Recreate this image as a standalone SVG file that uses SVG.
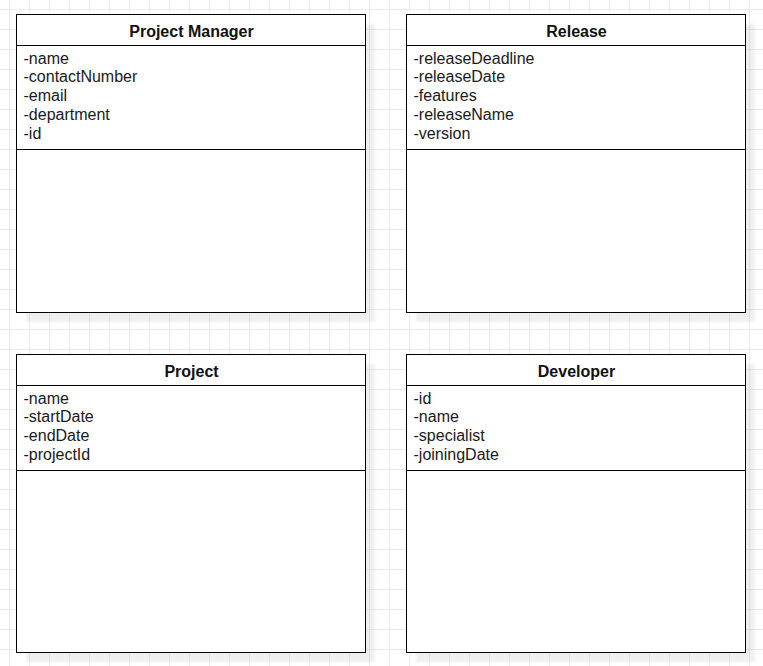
<svg xmlns="http://www.w3.org/2000/svg" width="763" height="666" viewBox="0 0 763 666">
<defs>
<pattern id="grid" x="9" y="9" width="20" height="20" patternUnits="userSpaceOnUse">
<path d="M0 0.5 H20 M0.5 0 V20" fill="none" stroke="#ececec" stroke-width="1"/>
</pattern>
<filter id="sh" x="-10%" y="-10%" width="130%" height="130%">
<feGaussianBlur stdDeviation="1.5"/>
</filter>
</defs>
<style>
.box{fill:#fff;stroke:#000;stroke-width:1}
.sep{stroke:#000;stroke-width:1;fill:none}
.shadow{fill:#000;opacity:0.06;filter:url(#sh)}
.title{font-family:"Liberation Sans",Arial,sans-serif;font-size:16px;font-weight:bold;fill:#111;text-anchor:middle}
.attr{font-family:"Liberation Sans",Arial,sans-serif;font-size:16px;fill:#1a1a1a}
</style>
<rect width="763" height="666" fill="#fff"/>
<rect x="0" y="0" width="763" height="666" fill="url(#grid)"/>

<g id="project-manager">
<rect class="shadow" x="26" y="24" width="349" height="298"/>
<rect class="box" x="16.5" y="14.5" width="349" height="298"/>
<line class="sep" x1="16.5" y1="45.5" x2="365.5" y2="45.5"/>
<line class="sep" x1="16.5" y1="149.5" x2="365.5" y2="149.5"/>
<text class="title" x="191.5" y="36.5">Project Manager</text>
<text class="attr" x="23.5" y="63.5">-name</text>
<text class="attr" x="23.5" y="82.3">-contactNumber</text>
<text class="attr" x="23.5" y="101.1">-email</text>
<text class="attr" x="23.5" y="119.9">-department</text>
<text class="attr" x="23.5" y="138.7">-id</text>
</g>

<g id="release">
<rect class="shadow" x="416" y="24" width="339" height="298"/>
<rect class="box" x="406.5" y="14.5" width="339" height="298"/>
<line class="sep" x1="406.5" y1="45.5" x2="745.5" y2="45.5"/>
<line class="sep" x1="406.5" y1="149.5" x2="745.5" y2="149.5"/>
<text class="title" x="576.5" y="36.5">Release</text>
<text class="attr" x="413.5" y="63.5">-releaseDeadline</text>
<text class="attr" x="413.5" y="82.3">-releaseDate</text>
<text class="attr" x="413.5" y="101.1">-features</text>
<text class="attr" x="413.5" y="119.9">-releaseName</text>
<text class="attr" x="413.5" y="138.7">-version</text>
</g>

<g id="project">
<rect class="shadow" x="26" y="364" width="349" height="298"/>
<rect class="box" x="16.5" y="354.5" width="349" height="298"/>
<line class="sep" x1="16.5" y1="385.5" x2="365.5" y2="385.5"/>
<line class="sep" x1="16.5" y1="470.5" x2="365.5" y2="470.5"/>
<text class="title" x="191.5" y="376.5">Project</text>
<text class="attr" x="23.5" y="403.5">-name</text>
<text class="attr" x="23.5" y="422.3">-startDate</text>
<text class="attr" x="23.5" y="441.1">-endDate</text>
<text class="attr" x="23.5" y="459.9">-projectId</text>
</g>

<g id="developer">
<rect class="shadow" x="416" y="364" width="339" height="298"/>
<rect class="box" x="406.5" y="354.5" width="339" height="298"/>
<line class="sep" x1="406.5" y1="385.5" x2="745.5" y2="385.5"/>
<line class="sep" x1="406.5" y1="470.5" x2="745.5" y2="470.5"/>
<text class="title" x="576.5" y="376.5">Developer</text>
<text class="attr" x="413.5" y="403.5">-id</text>
<text class="attr" x="413.5" y="422.3">-name</text>
<text class="attr" x="413.5" y="441.1">-specialist</text>
<text class="attr" x="413.5" y="459.9">-joiningDate</text>
</g>

<g id="connectors"></g>
</svg>
